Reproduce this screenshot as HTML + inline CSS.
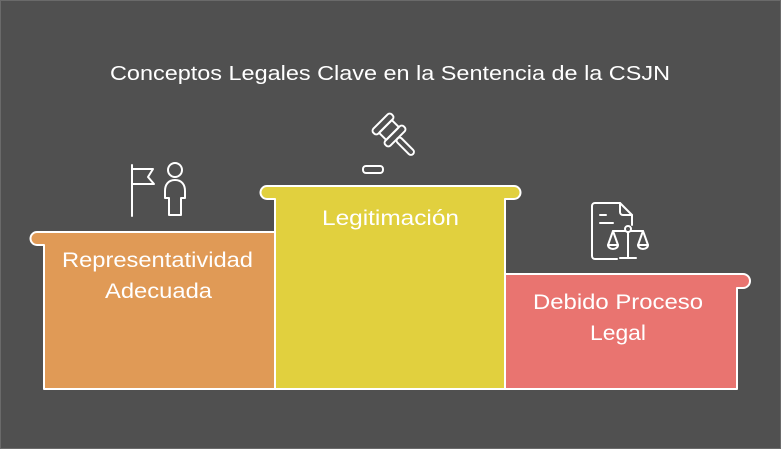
<!DOCTYPE html>
<html><head><style>
html,body{margin:0;padding:0;background:#505050;}
svg{display:block;}
text{font-family:"Liberation Sans",sans-serif;fill:#fff;}
</style></head><body>
<svg width="781" height="449" viewBox="0 0 781 449">
<rect x="0.5" y="0.5" width="780" height="448" fill="#505050" stroke="#6a6a6a"/>
<text x="110" y="80" font-size="20" textLength="560" lengthAdjust="spacingAndGlyphs">Conceptos Legales Clave en la Sentencia de la CSJN</text>
<g stroke="#fff" stroke-width="2" stroke-linejoin="round">
<path d="M44 389 V245 H37 a6.5 6.5 0 0 1 0 -13 H275 V389 Z" fill="#E09A56"/>
<path d="M505 389 V274 H743 a7 7 0 0 1 0 14 H737 V389 Z" fill="#E97470"/>
<path d="M275 389 V199 H267 a6.5 6.5 0 0 1 0 -13 H514 a6.5 6.5 0 0 1 0 13 H505 V389 Z" fill="#E1D03E"/>
</g>
<g font-size="21">
<text x="62" y="267" textLength="191" lengthAdjust="spacingAndGlyphs">Representatividad</text>
<text x="105" y="298" textLength="107" lengthAdjust="spacingAndGlyphs">Adecuada</text>
<text x="322" y="225" textLength="137" lengthAdjust="spacingAndGlyphs">Legitimación</text>
<text x="533" y="309" textLength="170" lengthAdjust="spacingAndGlyphs">Debido Proceso</text>
<text x="590" y="340" textLength="56" lengthAdjust="spacingAndGlyphs">Legal</text>
</g>
<g fill="none" stroke="#fff" stroke-width="2" stroke-linejoin="round" stroke-linecap="round">
<path d="M132 216 V165 M132 169 H153 L148 177 L154 184 H132"/>
<circle cx="175" cy="170" r="7"/>
<path d="M175 180 c-7 0 -10 5 -10 11 v7 h4 v17 h12 v-17 h4 v-7 c0 -6 -3 -11 -10 -11 z"/>
<rect x="363" y="166" width="20" height="7" rx="3"/>
<g transform="rotate(-45 389 130)">
<rect x="376" y="118" width="26" height="7" rx="3"/>
<rect x="380" y="125" width="18" height="10" rx="1"/>
<rect x="376" y="135" width="26" height="7" rx="3"/>
<rect x="386" y="142" width="6" height="22" rx="3"/>
</g>
<path d="M617 259 H595 a3 3 0 0 1 -3 -3 V206 a3 3 0 0 1 3 -3 H620 L632 215 V225"/>
<path d="M620 203 V212 a3 3 0 0 0 3 3 H632"/>
<path d="M600 215 H606 M600 223 H613"/>
<circle cx="628" cy="229" r="3"/>
<path d="M628 232 V258 M620 258 H636 M613 231 H625 M631 231 H643"/>
<path d="M613 231 L608 245 H618 Z M643 231 L638 245 H648 Z"/>
<path d="M608 245 a5 4 0 0 0 10 0 M638 245 a5 4 0 0 0 10 0"/>
</g>
</svg>
</body></html>
